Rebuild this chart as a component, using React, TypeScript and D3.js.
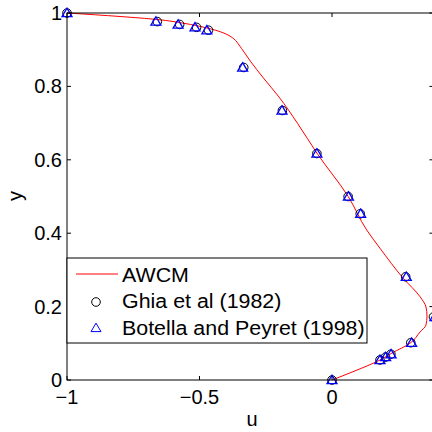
import React from "react";
import * as d3 from "d3";

// AWCM solution (u along vertical centreline)
const awcmY = [0, 0.0226, 0.0545, 0.0736, 0.1, 0.1308, 0.1499, 0.1744, 0.1989, 0.227, 0.2771, 0.3589, 0.4087, 0.4995, 0.6177, 0.6995, 0.7711, 0.8243, 0.8665, 0.8937, 0.9128, 0.9292, 0.9414, 0.951, 0.9605, 0.9714, 0.9823, 0.9905, 1];
const awcmU = [0, 0.0792, 0.1811, 0.2264, 0.2943, 0.3321, 0.3547, 0.3585, 0.3547, 0.3321, 0.2691, 0.1811, 0.131, 0.0615, -0.0566, -0.1302, -0.2, -0.2604, -0.3057, -0.3321, -0.3509, -0.3698, -0.3962, -0.4302, -0.4792, -0.5547, -0.6604, -0.8, -1];

// Ghia et al (1982)
const ghiaY = [1.0, 0.9766, 0.9688, 0.9609, 0.9531, 0.8516, 0.7344, 0.6172, 0.5, 0.4531, 0.2813, 0.1719, 0.1016, 0.0703, 0.0625, 0.0547, 0];
const ghiaU = [-1, -0.65928, -0.57492, -0.51117, -0.46604, -0.33304, -0.18719, -0.05702, 0.0608, 0.10648, 0.27805, 0.38289, 0.2973, 0.2222, 0.20196, 0.18109, 0];

// Botella and Peyret (1998)
const botY = [1.0, 0.9766, 0.9688, 0.9609, 0.9531, 0.8516, 0.7344, 0.6172, 0.5, 0.4531, 0.2813, 0.1719, 0.1016, 0.0703, 0.0625, 0.0547, 0];
const botU = [-1, -0.6644, -0.5808, -0.5169, -0.4723, -0.3372, -0.1887, -0.057, 0.062, 0.1081, 0.2803, 0.3885, 0.3004, 0.2228, 0.2023, 0.1811, 0];

const xTicks = [-1, -0.5, 0];
const yTicks = [0, 0.2, 0.4, 0.6, 0.8, 1];
const xTickLabels = ["\u22121", "\u22120.5", "0"];
const yTickLabels = ["0", "0.2", "0.4", "0.6", "0.8", "1"];
const legendLabels = ["AWCM", "Ghia et al (1982)", "Botella and Peyret (1998)"];

const W = 432, H = 432;
const L = 67, T = 13, B = 380;
const XMAX = 0.38289;
const R = L + (XMAX + 1) * 265;

export default function App() {
  const x = d3.scaleLinear().domain([-1, XMAX]).range([L, R]);
  const y = d3.scaleLinear().domain([0, 1]).range([B, T]);
  const pts: [number, number][] = awcmU.map((u, i) => [x(u), y(awcmY[i])]);
  const line = d3.line().curve(d3.curveMonotoneY)(pts) || "";
  const tri = (cx: number, cy: number) =>
    `M${cx},${cy - 4.8}L${cx + 5},${cy + 3.6}L${cx - 5},${cy + 3.6}Z`;
  const font = "'Liberation Sans', Arial, Helvetica, sans-serif";
  const tl = 4;
  const legText = (i: number, yy: number) => (
    <text transform={`translate(122,${yy}) scale(1.07,1)`} fontSize={20}>{legendLabels[i]}</text>
  );
  return (
    <svg width={W} height={H} style={{ position: "absolute", left: 0, top: 0, background: "#fff" }} fontFamily={font}>
      <defs>
        <clipPath id="plotclip">
          <rect x={L - 6} y={T - 6} width={R - L + 12} height={B - T + 12} />
        </clipPath>
      </defs>
      <g clipPath="url(#plotclip)">
        <path d={line} fill="none" stroke="#ff0000" strokeWidth={1} />
        {ghiaU.map((u, i) => (
          <circle key={"g" + i} cx={x(u)} cy={y(ghiaY[i])} r={4.3} fill="none" stroke="#000" strokeWidth={1} />
        ))}
        {botU.map((u, i) => (
          <path key={"b" + i} d={tri(x(u), y(botY[i]))} fill="none" stroke="#0000ff" strokeWidth={1.3} />
        ))}
      </g>
      {/* axes box */}
      <rect x={L} y={T} width={R - L} height={B - T} fill="none" stroke="#000" strokeWidth={1} />
      {xTicks.map((t) => (
        <g key={"xt" + t}>
          <line x1={x(t)} x2={x(t)} y1={B} y2={B - tl} stroke="#000" />
          <line x1={x(t)} x2={x(t)} y1={T} y2={T + tl} stroke="#000" />
        </g>
      ))}
      {yTicks.map((t) => (
        <g key={"yt" + t}>
          <line x1={L} x2={L + tl} y1={y(t)} y2={y(t)} stroke="#000" />
          <line x1={R} x2={R - tl} y1={y(t)} y2={y(t)} stroke="#000" />
        </g>
      ))}
      {xTicks.map((t, i) => (
        <text key={"xl" + t} x={x(t)} y={404} fontSize={20} textAnchor="middle">{xTickLabels[i]}</text>
      ))}
      {yTicks.map((t, i) => (
        <text key={"yl" + t} x={62} y={y(t) + 7} fontSize={20} textAnchor="end">{yTickLabels[i]}</text>
      ))}
      <text x={252} y={425.5} fontSize={20} textAnchor="middle">u</text>
      <text transform="translate(22,196) rotate(-90)" fontSize={20} textAnchor="middle">y</text>
      {/* legend */}
      <rect x={L} y={258} width={300} height={85} fill="#fff" stroke="#000" strokeWidth={1} />
      <line x1={76} x2={118} y1={274} y2={274} stroke="#ff0000" strokeWidth={1} />
      <circle cx={96} cy={302} r={4.3} fill="none" stroke="#000" strokeWidth={1} />
      <path d={tri(96, 328)} fill="none" stroke="#0000ff" strokeWidth={1} />
      {legText(0, 281.7)}
      {legText(1, 308.3)}
      {legText(2, 335)}
    </svg>
  );
}
